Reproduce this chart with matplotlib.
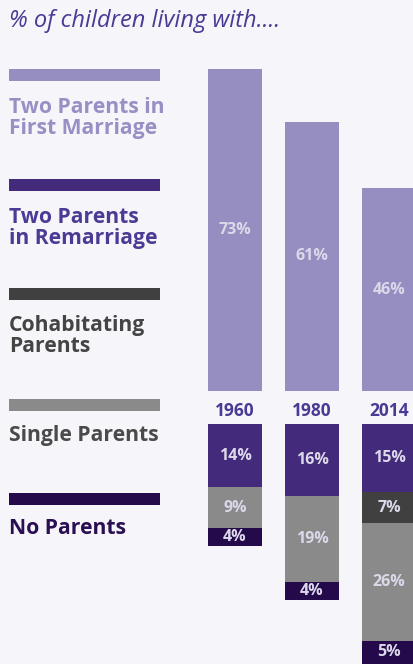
import matplotlib
matplotlib.use("Agg")
import matplotlib.pyplot as plt
from matplotlib.patches import Rectangle
import numpy as np

# ---------------- data ----------------
years = ["1960", "1980", "2014"]
first_marriage = [73, 61, 46]
remarriage = [14, 16, 15]
cohabitating = [0, 0, 7]
single = [9, 19, 26]
no_parents = [4, 4, 5]

categories = ["Two Parents in\nFirst Marriage", "Two Parents\nin Remarriage",
              "Cohabitating\nParents", "Single Parents", "No Parents"]
title = "% of children living with...."

# ---------------- style ----------------
BG = "#f5f5fa"
C_FIRST = "#968dc0"
C_REM = "#432a7a"
C_COH = "#404040"
C_SINGLE = "#8a8a8a"
C_NONE = "#24094b"
TXT_COLORS = ["#9890c4", "#4c3a95", "#444444", "#4a4a4a", "#2a0f52"]
BAR_COLORS = [C_FIRST, C_REM, C_COH, C_SINGLE, C_NONE]
LABEL_C = "#dcd8ea"
FONT = ["Open Sans", "DejaVu Sans"]

W, H = 414, 664
fig = plt.figure(figsize=(W / 100, H / 100), dpi=100, facecolor=BG)

def fx(x):
    return x / W

def fy(y):
    return 1 - y / H

# title
fig.text(fx(9), fy(21), title, family=FONT, style="italic", fontsize=17,
         color="#4b3a93", va="center", ha="left")

# legend swatches and labels
sw_tops = [69, 179, 288, 399, 493]
txt_y = [118, 228, 336, 436, 529]
for i, cat in enumerate(categories):
    fig.add_artist(Rectangle((fx(9), fy(sw_tops[i] + 12)), fx(151), 12 / H,
                             transform=fig.transFigure, color=BAR_COLORS[i], lw=0))
    fig.text(fx(9), fy(txt_y[i]), cat, family=FONT, weight="bold", fontsize=15.2,
             color=TXT_COLORS[i], va="center", ha="left", linespacing=1.0)

# ---------------- bars ----------------
top_px, base_px, low_px = 0, 391, 424
s_top, s_bot = 4.41, 4.52  # px per %
xl = (-35 / 77, 179 / 77)
x = np.arange(len(years))
w = 54 / 77

ax = fig.add_axes([200 / W, 1 - base_px / H, 214 / W, base_px / H])
ax.set_xlim(*xl)
ax.set_ylim(0, base_px / s_top)
ax.axis("off")

ax.bar(x, first_marriage, width=w, color=C_FIRST)
for xi, v in zip(x, first_marriage):
    ax.text(xi, v / 2, f"{v}%", ha="center", va="center", color=LABEL_C,
            family=FONT, weight="bold", fontsize=11.5)

for xi, yr in zip(x, years):
    ax.text(xi, -20 / s_top, yr, ha="center", va="center", color="#4b3a93",
            family=FONT, weight="bold", fontsize=12.5, clip_on=False)

ax2 = fig.add_axes([200 / W, 0, 214 / W, 1 - low_px / H])
ax2.set_xlim(*xl)
ax2.set_ylim(-(H - low_px) / s_bot, 0)
ax2.axis("off")

stack = [remarriage, cohabitating, single, no_parents]
stack_colors = [C_REM, C_COH, C_SINGLE, C_NONE]
cum = np.zeros(len(years))
for vals, col in zip(stack, stack_colors):
    vals = np.array(vals, dtype=float)
    tops = -cum
    ax2.bar(x, -vals, width=w, bottom=tops, color=col)
    for xi, t, v in zip(x, tops, vals):
        if v > 0:
            ax2.text(xi, t - v / 2, f"{int(v)}%", ha="center", va="center",
                     color=LABEL_C, family=FONT, weight="bold", fontsize=11.5)
    cum += vals

fig.savefig("out.png", dpi=100, facecolor=BG)
